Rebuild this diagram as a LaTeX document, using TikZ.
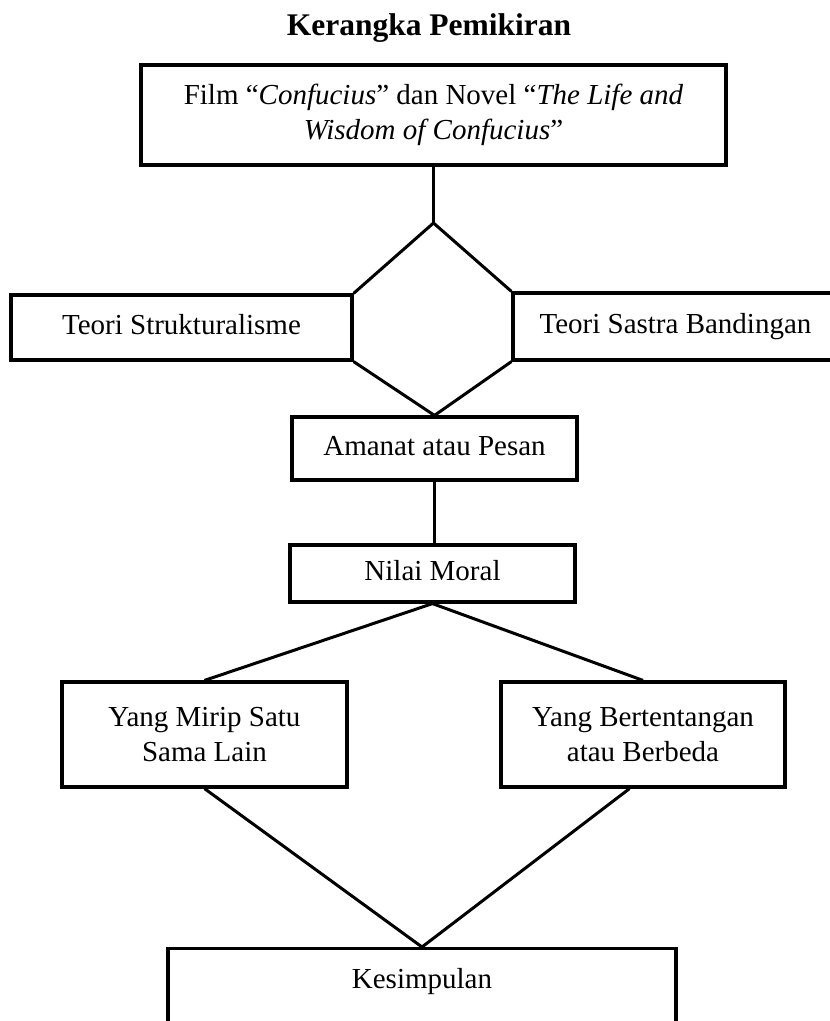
\documentclass[tikz,border=0pt]{standalone}
\usepackage{fontspec}
\setmainfont{Liberation Serif}
\tikzset{
	kotak/.style={draw=black, line width=3.2pt, inner sep=0pt, align=center, font=\fontsize{29}{35}\selectfont},
	satu/.style={text height=20pt, text depth=7pt}
}
\begin{document}
\begin{tikzpicture}[x=1pt, y=-1pt, line width=3pt]
	\useasboundingbox (0,0) rectangle (830,1021);
	\node[font=\fontsize{31.5}{38}\selectfont\bfseries, anchor=base] (J) at (429,35) {Kerangka Pemikiran};
	\node[kotak, minimum width=585, minimum height=100] (F) at (433.5,115) {Film “\textit{Confucius}” dan Novel “\textit{The Life and}\\\textit{Wisdom of Confucius}”};
	\coordinate (P) at (433.5,223);
	\node[kotak, satu, minimum width=341, minimum height=65] (T1) at (181.5,327.5) {Teori Strukturalisme};
	\node[kotak, satu, minimum width=325, minimum height=67] (T2) at (675.5,326.5) {Teori Sastra Bandingan};
	\node[kotak, satu, minimum width=285, minimum height=63] (A) at (434.5,448.5) {Amanat atau Pesan};
	\node[kotak, satu, minimum width=285, minimum height=57] (N) at (432.5,573.5) {Nilai Moral};
	\node[kotak, minimum width=285, minimum height=105] (Y1) at (204.5,734.5) {Yang Mirip Satu\\Sama Lain};
	\node[kotak, minimum width=284, minimum height=105] (Y2) at (643,734.5) {Yang Bertentangan\\atau Berbeda};
	\node[kotak, anchor=north, minimum width=508, inner ysep=20pt, text depth=120pt] (K) at (422,947) {Kesimpulan};
	\draw (F) -- (P);
	\draw (T1.north east) -- (P) -- (T2.north west);
	\draw (T1.south east) -- (A.north) -- (T2.south west);
	\draw (A.south) -- (A.south |- N.north);
	\draw (Y1.north) -- (N.south) -- (Y2.north);
	\draw (Y1.south) -- (K.north) -- (Y2.256);
\end{tikzpicture}
\end{document}
